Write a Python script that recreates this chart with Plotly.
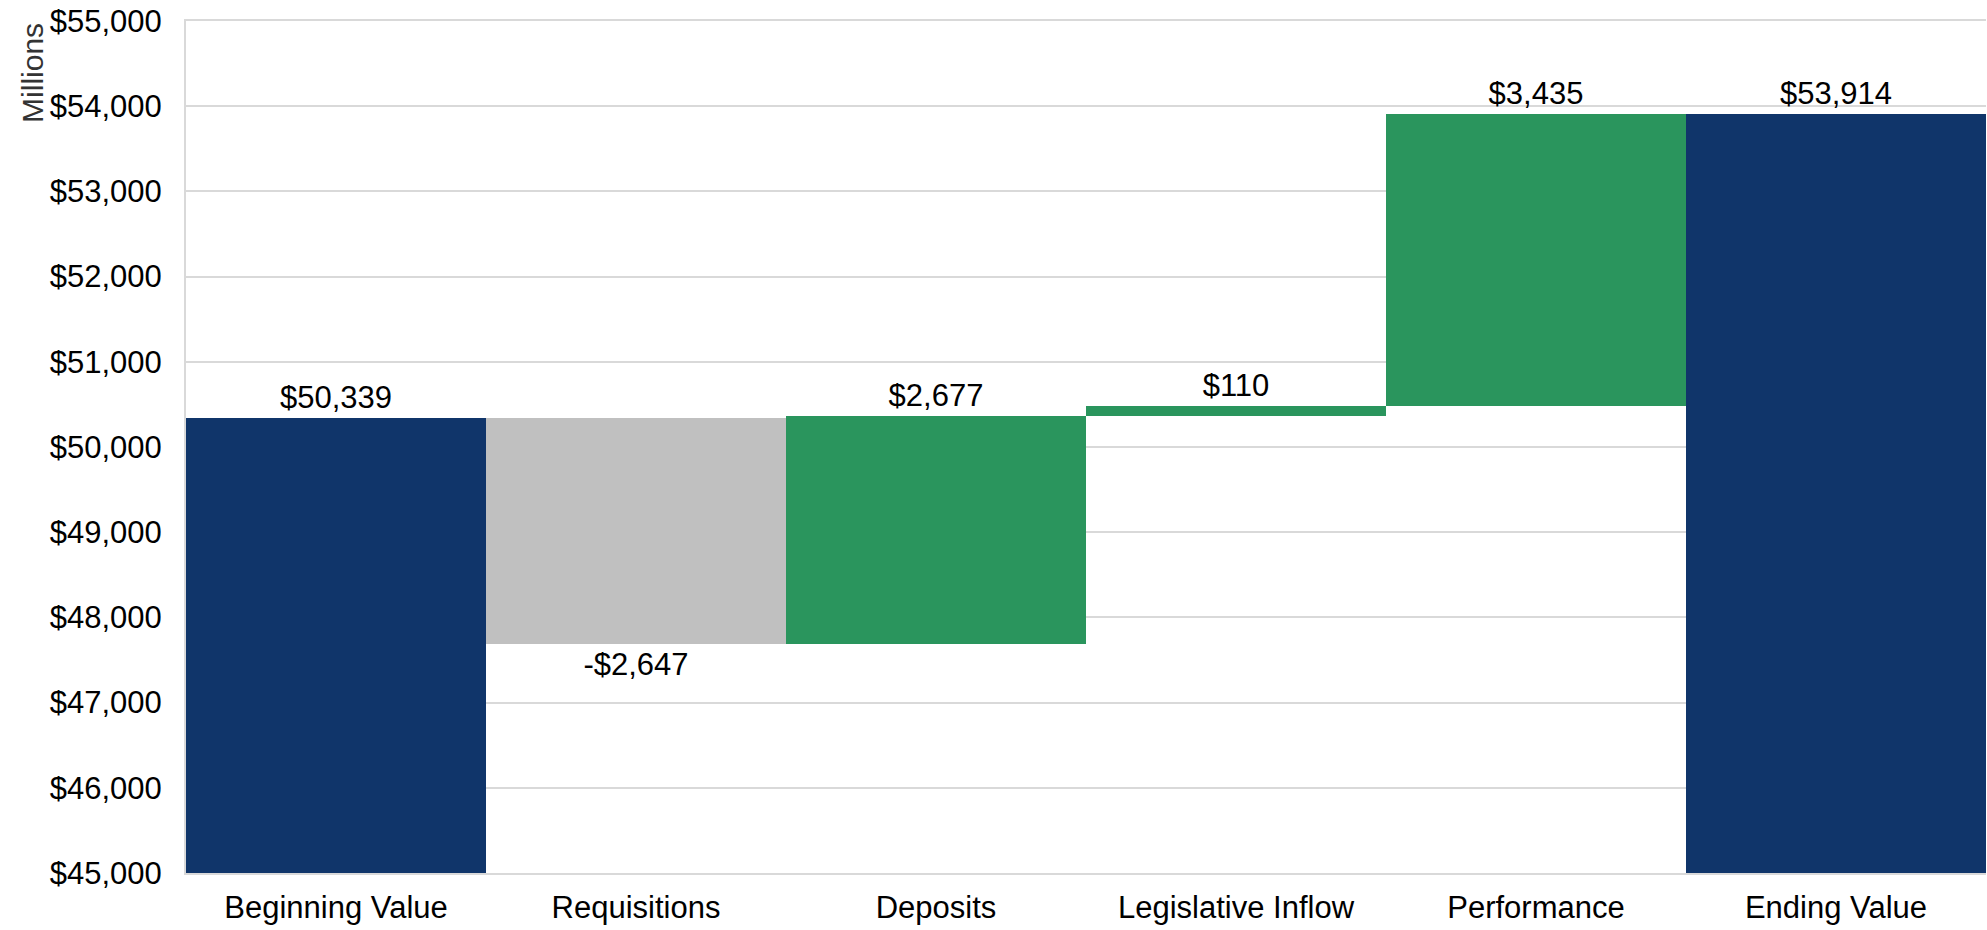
import plotly.graph_objects as go

categories = ["Beginning Value", "Requisitions", "Deposits", "Legislative Inflow", "Performance", "Ending Value"]
values = [50339, -2647, 2677, 110, 3435, 53914]
measures = ["absolute", "relative", "relative", "relative", "relative", "total"]
labels = ["$50,339", "-$2,647", "$2,677", "$110", "$3,435", "$53,914"]
y_ticks = [45000, 46000, 47000, 48000, 49000, 50000, 51000, 52000, 53000, 54000, 55000]
y_tick_text = ["$45,000", "$46,000", "$47,000", "$48,000", "$49,000", "$50,000",
               "$51,000", "$52,000", "$53,000", "$54,000", "$55,000"]

NAVY = "#10356A"
GREEN = "#2A955D"
GRAY = "#C0C0C0"
GRID = "#D9D9D9"
FONT = "Liberation Sans, Arial, sans-serif"

fig = go.Figure(go.Waterfall(
    x=categories,
    y=values,
    measure=measures,
    text=labels,
    textposition="outside",
    textfont=dict(family=FONT, size=31, color="black"),
    increasing=dict(marker=dict(color=GREEN)),
    decreasing=dict(marker=dict(color=GRAY)),
    totals=dict(marker=dict(color=NAVY)),
    connector=dict(visible=False),
    cliponaxis=False,
    hoverinfo="skip",
))

fig.update_layout(
    width=1987,
    height=930,
    margin=dict(l=186, r=1, t=21, b=57, autoexpand=False),
    plot_bgcolor="white",
    paper_bgcolor="white",
    showlegend=False,
    waterfallgap=0,
    font=dict(family=FONT, size=31, color="black"),
    xaxis=dict(
        showgrid=False,
        showline=True,
        mirror=True,
        linecolor=GRID,
        linewidth=2,
        automargin=False,
        ticks="outside",
        ticklen=6,
        tickcolor="rgba(0,0,0,0)",
        tickfont=dict(family=FONT, size=31, color="black"),
    ),
    yaxis=dict(
        range=[45000, 55000],
        tickvals=y_ticks,
        ticktext=y_tick_text,
        showgrid=True,
        gridcolor=GRID,
        gridwidth=2,
        showline=True,
        linecolor=GRID,
        linewidth=2,
        zeroline=False,
        automargin=False,
        ticks="outside",
        ticklen=16,
        tickcolor="rgba(0,0,0,0)",
        ticklabeloverflow="allow",
        tickfont=dict(family=FONT, size=31, color="black"),
    ),
    annotations=[dict(
        text="Millions",
        textangle=-90,
        xref="paper", yref="paper",
        x=-0.0856, y=1.0,
        xanchor="center", yanchor="top",
        showarrow=False,
        font=dict(family=FONT, size=30, color="#333333"),
    )],
)

fig.write_html(
    "out.html",
    config={"displayModeBar": False},
    post_script="document.body.style.margin='0';",
)
